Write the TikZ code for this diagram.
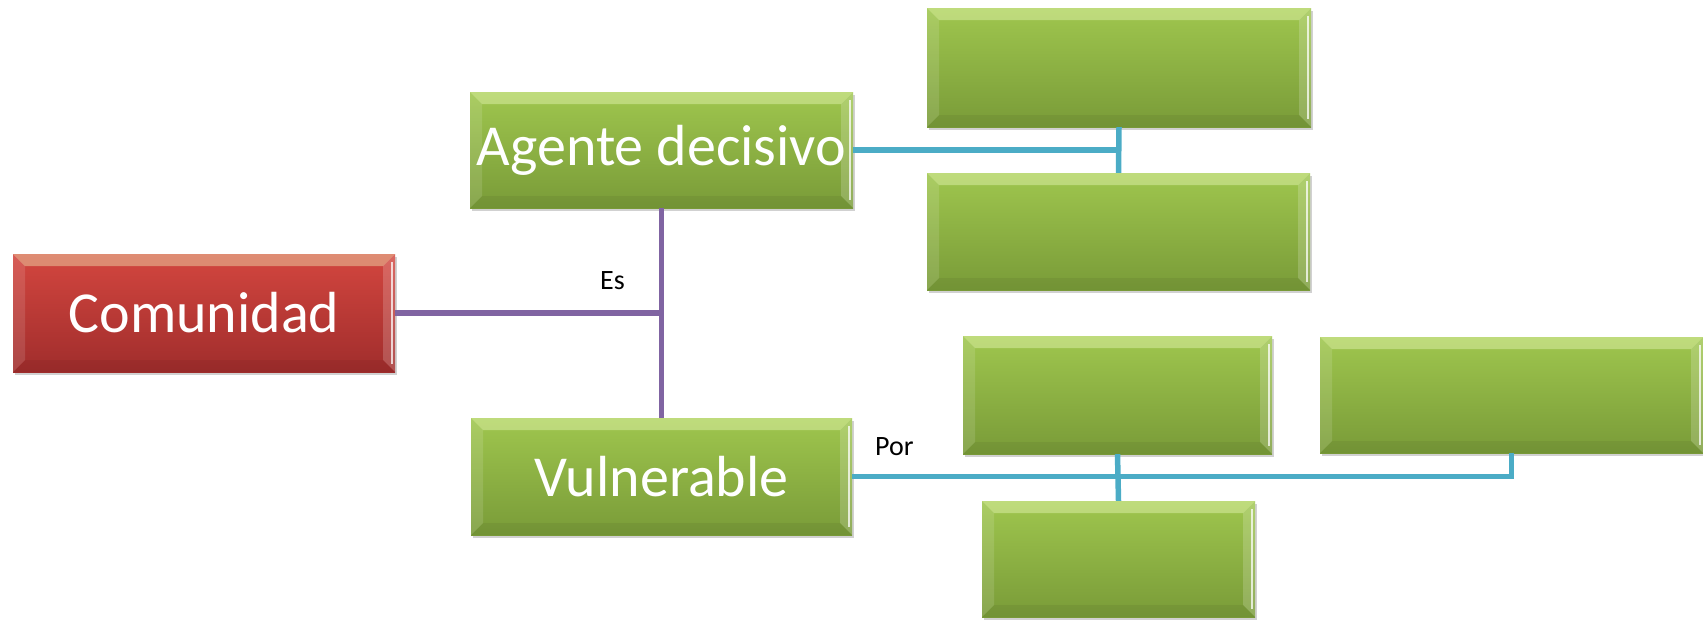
\documentclass[tikz,border=0pt]{standalone}
\usepackage{fontspec}
\setmainfont{Carlito}
\usetikzlibrary{shadows}
\definecolor{gtop}{HTML}{9FC64E}
\definecolor{gbot}{HTML}{799B38}
\definecolor{rtop}{HTML}{D3463F}
\definecolor{rbot}{HTML}{A02D2C}
\definecolor{purp}{HTML}{8064A2}
\definecolor{aqua}{HTML}{4BACC6}
\definecolor{hil}{HTML}{F4FFC8}
\tikzset{
  bevel/.style={path picture={
    \fill[hil,opacity=.38] (path picture bounding box.north west) -- (path picture bounding box.north east)
      -- ([xshift=-12pt,yshift=-12pt]path picture bounding box.north east) -- ([xshift=12pt,yshift=-12pt]path picture bounding box.north west) -- cycle;
    \fill[white,opacity=.12] (path picture bounding box.north west) -- ([xshift=12pt,yshift=-12pt]path picture bounding box.north west)
      -- ([xshift=12pt,yshift=12pt]path picture bounding box.south west) -- (path picture bounding box.south west) -- cycle;
    \fill[white,opacity=.18] (path picture bounding box.north east) -- ([xshift=-12pt,yshift=-12pt]path picture bounding box.north east)
      -- ([xshift=-12pt,yshift=12pt]path picture bounding box.south east) -- (path picture bounding box.south east) -- cycle;
    \draw[white,opacity=.75,line width=1.5pt] ([xshift=-3pt,yshift=-8pt]path picture bounding box.north east) -- ([xshift=-3pt,yshift=8pt]path picture bounding box.south east);
    \fill[black,opacity=.05] (path picture bounding box.south west) -- ([xshift=12pt,yshift=12pt]path picture bounding box.south west)
      -- ([xshift=-12pt,yshift=12pt]path picture bounding box.south east) -- (path picture bounding box.south east) -- cycle;
  }},
  box/.style={rectangle, inner sep=0pt, bevel, text=white, font=\fontsize{58}{60}\selectfont,
    drop shadow={opacity=.3, shadow xshift=2pt, shadow yshift=-3pt, fill=black!60}},
  gbox/.style={box, top color=gtop, bottom color=gbot},
  rbox/.style={box, top color=rtop, bottom color=rbot},
  pline/.style={draw=purp, line width=5.5pt},
  bline/.style={draw=aqua, line width=5.5pt},
  lbl/.style={font=\fontsize{28}{30}\selectfont, text=black, inner sep=0pt, anchor=base west}
}
\begin{document}
\begin{tikzpicture}[x=1pt,y=-1pt]
\useasboundingbox (0,0) rectangle (1703,621);
\node[rbox, minimum width=382pt, minimum height=118pt] (com) at (204,313) {Comunidad};
\node[gbox, minimum width=383pt, minimum height=116pt] (ag) at (661.5,150) {Agente decisivo};
\node[gbox, minimum width=381pt, minimum height=117pt] (vul) at (661.5,476.5) {Vulnerable};
\node[gbox, minimum width=384pt, minimum height=119pt] (t1) at (1119,67.5) {};
\node[gbox, minimum width=383pt, minimum height=117pt] (t2) at (1118.5,231.5) {};
\node[gbox, minimum width=309pt, minimum height=118pt] (m1) at (1117.5,395) {};
\node[gbox, minimum width=383pt, minimum height=116pt] (m2) at (1511.5,395) {};
\node[gbox, minimum width=273pt, minimum height=116pt] (b1) at (1118.5,559) {};
\draw[pline] (ag.south) -- (vul.north);
\draw[pline] (com.east) -- (com.east -| ag.south);
\draw[bline] (ag.east) -- (ag.east -| t1.south);
\draw[bline] (t1.south) -- (t2.north);
\draw[bline] (vul.east) -| (m2.south);
\draw[bline] (m1.south) -- (b1.north);
\node[lbl] (es) at (600,289) {Es};
\node[lbl] (por) at (875,455) {Por};
\end{tikzpicture}
\end{document}
